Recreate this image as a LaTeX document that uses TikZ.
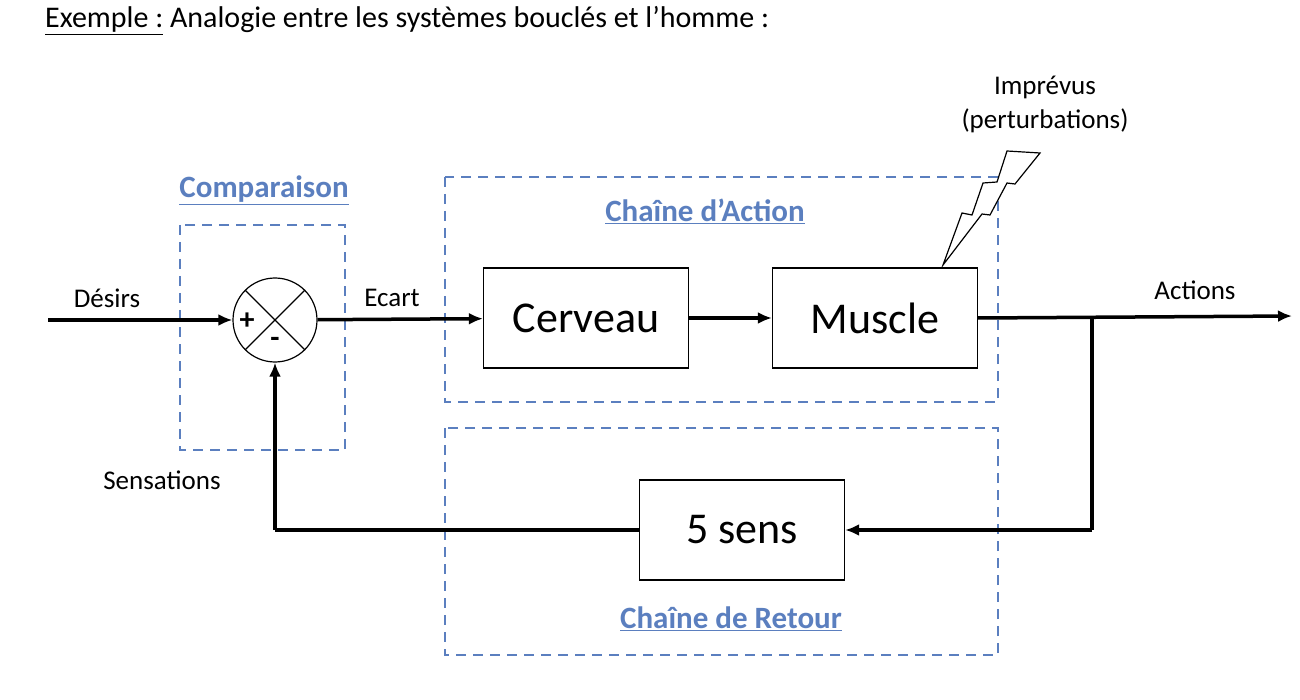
\documentclass[tikz,border=0pt]{standalone}
\usepackage{fontspec}
\setmainfont{Carlito}
\usetikzlibrary{arrows.meta}
\definecolor{db}{HTML}{5B7FBF}
\begin{document}
\begin{tikzpicture}[x=1pt,y=-1pt,
  blk/.style={draw,line width=1.2pt,minimum width=205pt,minimum height=100pt,font=\fontsize{44}{48}\selectfont,inner sep=0},
  grp/.style={draw=db,line width=1.5pt,dash pattern=on 10pt off 7pt},
  glab/.style={text=db,font=\bfseries\fontsize{31}{34}\selectfont},
  lab/.style={font=\fontsize{27}{32}\selectfont},
  sig/.style={line width=3.5pt,-{Latex[length=14pt,width=12pt]}},
  wire/.style={line width=3.5pt}]
\useasboundingbox (0,0) rectangle (1300,700);
\node[font=\fontsize{30}{34}\selectfont,anchor=base west,inner sep=0] (title) at (45,28) {\underline{Exemple :} Analogie entre les systèmes bouclés et l’homme :};
\draw[grp] (180,225) rectangle (345,450);
\draw[grp] (445,177) rectangle (998,402);
\draw[grp] (445,428) rectangle (998,655);
\node[glab] (lc) at (264,190) {\underline{Comparaison}};
\node[glab] (la) at (705,211) {\underline{Chaîne d’Action}};
\node[glab] (lr) at (731,619) {\underline{Chaîne de Retour}};
\node[draw,line width=1.2pt,circle,minimum size=84pt,inner sep=0] (cmp) at (275,320) {};
\draw[line width=1.2pt] (cmp.45) -- (cmp.225) (cmp.135) -- (cmp.315);
\node[font=\bfseries\fontsize{30}{30}\selectfont] (plus) at (247,321) {+};
\node[font=\bfseries\fontsize{30}{30}\selectfont] (minus) at (275,342) {-};
\node[blk] (cer) at (586,318) {Cerveau};
\node[blk] (mus) at (875,318) {Muscle};
\node[blk] (sens) at (742,530) {5 sens};
\coordinate (in) at (48,320);
\coordinate (out) at (1292,316);
\coordinate (br) at (1092,318);
\coordinate (br2) at (1092,530);
\coordinate (fb) at (275,530);
\draw[sig] (in) -- (cmp);
\draw[sig] (cmp) -- (cer);
\draw[sig] (cer) -- (mus);
\draw[sig] (mus.east) -- (out);
\draw[wire] (br) -- (br2);
\draw[sig] (br2) -- (sens);
\draw[wire] (sens) -- (fb);
\draw[sig] (fb) -- (cmp);
\node[lab] (des) at (107,298) {Désirs};
\node[lab] (eca) at (392,298) {Ecart};
\node[lab] (act) at (1195,290) {Actions};
\node[lab] (sen) at (162,480) {Sensations};
\node[lab] (imp) at (1045,87) {Imprévus};
\node[lab] (per) at (1045,121) {(perturbations)};
\draw[line width=1.2pt,fill=white] (943,265) -- (962,213) -- (972,215) -- (983,183) -- (997,182) -- (1007,151) -- (1040,153) -- (1015,184) -- (1007,183) -- (990,215) -- (982,214) -- cycle;
\end{tikzpicture}
\end{document}
